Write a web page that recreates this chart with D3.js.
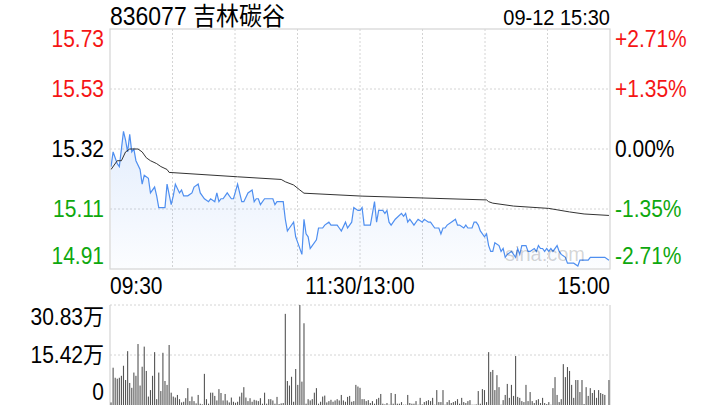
<!DOCTYPE html>
<html><head><meta charset="utf-8">
<script src="https://cdn.jsdelivr.net/npm/d3@7"></script>
<style>
html,body{margin:0;padding:0;background:#fff;}
svg text{font-family:"Liberation Sans",Arial,"Noto Sans CJK SC",sans-serif;}
</style></head>
<body><svg id="c" width="720" height="420"></svg>
<script>
// ---- data ----
const title = "836077 吉林碳谷";
const stamp = "09-12 15:30";
const preClose = 15.32;
const priceDomain = [14.91, 15.73];
const priceTickLabels = ["15.73", "15.53", "15.32", "15.11", "14.91"];
const pctTickLabels = ["+2.71%", "+1.35%", "0.00%", "-1.35%", "-2.71%"];
const timeLabels = ["09:30", "11:30/13:00", "15:00"];
const volMax = 30.83;
const volTickLabels = ["30.83万", "15.42万", "0"];
const minutes = 241;

// minute index / price pairs for the intraday line
const priceIdx = [0,1,3,4,6,7,8,9,10,11,12,14,15,16,18,19,21,22,23,25,26,27,29,30,31,33,34,35,37,39,40,42,43,45,47,48,50,51,52,53,54,55,56,58,59,61,63,64,66,68,69,70,71,72,74,78,79,80,83,84,85,86,88,89,90,92,93,94,95,96,97,99,100,102,103,105,106,109,110,111,113,114,116,117,119,120,121,122,125,126,127,128,129,131,132,133,134,135,137,140,141,142,143,144,145,146,148,150,151,153,154,156,158,159,160,161,162,164,166,167,168,170,171,172,174,175,176,177,178,180,181,182,183,184,185,187,188,189,190,191,193,195,196,197,198,200,201,202,204,205,206,207,208,209,210,211,212,213,215,216,217,219,220,221,222,223,225,226,228,230,231,233,235,238,240];
const priceVal = [15.26,15.31,15.27,15.26,15.38,15.35,15.31,15.37,15.31,15.32,15.28,15.25,15.20,15.23,15.22,15.17,15.19,15.16,15.12,15.12,15.12,15.20,15.13,15.16,15.20,15.17,15.18,15.16,15.16,15.17,15.19,15.20,15.17,15.15,15.14,15.15,15.14,15.17,15.14,15.15,15.15,15.16,15.17,15.15,15.15,15.20,15.14,15.14,15.17,15.18,15.14,15.15,15.15,15.13,15.15,15.15,15.13,15.14,15.14,15.08,15.04,15.05,15.07,15.02,15.00,14.96,15.08,15.03,15.02,14.98,14.99,15.01,15.05,15.05,15.06,15.07,15.06,15.06,15.05,15.04,15.07,15.05,15.07,15.12,15.11,15.11,15.12,15.06,15.06,15.10,15.14,15.07,15.11,15.11,15.10,15.11,15.07,15.06,15.08,15.10,15.09,15.10,15.07,15.08,15.07,15.06,15.08,15.07,15.08,15.07,15.07,15.05,15.05,15.03,15.05,15.05,15.06,15.07,15.08,15.06,15.06,15.05,15.06,15.05,15.05,15.07,15.07,15.06,15.04,15.02,15.03,14.99,14.97,14.97,15.00,14.99,14.97,14.98,14.95,14.96,14.97,14.95,14.98,14.96,14.99,14.99,14.97,14.97,14.98,14.97,14.99,14.98,14.98,14.97,14.98,14.97,14.98,14.97,14.99,14.97,14.96,14.95,14.93,14.93,14.93,14.93,14.92,14.94,14.94,14.94,14.95,14.95,14.95,14.95,14.94];

// minute index / average price pairs
const avgIdx = [0,3,5,7,9,13,15,17,19,22,24,27,28,61,82,84,88,91,93,121,181,182,184,194,211,221,228,240];
const avgVal = [15.25,15.28,15.28,15.31,15.32,15.32,15.31,15.29,15.28,15.27,15.26,15.25,15.24,15.225,15.216,15.208,15.197,15.18,15.169,15.159,15.146,15.14,15.135,15.125,15.117,15.105,15.098,15.093];

// volume per minute, in 万
const volAM = [0.8,11.5,8.4,8.1,8.4,9.0,12.1,7.7,16.6,6.8,
5.3,10.0,9.0,18.8,6.0,11.8,18.0,10.5,2.6,4.6,
9.0,16.3,1.8,10.0,4.3,16.1,7.4,6.2,18.5,3.8,
2.6,2.3,3.1,1.8,0.8,1.0,2.1,5.2,1.2,2.6,
1.2,0.5,3.1,0.4,0.2,9.6,1.8,0.4,3.8,3.8,
2.8,1.4,4.9,3.7,1.4,3.4,1.4,0.8,2.3,1.0,
0.7,1.0,2.6,3.8,5.5,2.3,1.2,2.1,1.0,1.6,
1.4,1.2,2.1,0.4,3.8,0.4,1.8,1.8,1.4,0.4,
2.5,0.3,0.5,0.6,28.1,7.4,6.0,8.7,1.0,11.1,
6.2,30.83,7.2,25.2,0.4,1.8,1.4,1.8,3.8,5.2,
0.4,1.0,2.6,2.9,0.8,1.2,1.6,1.0,1.4,1.8,
1.4,3.1,1.4,1.0,2.5,2.8,1.0,1.2,6.2,5.7,
5.3];
const volPM = [1.8,1.8,1.2,1.5,0.6,1.2,0.4,1.8,2.2,3.4,
0.4,0.2,0.6,0.1,3.7,0.4,3.4,0.4,0.4,0.9,
0.1,0.1,3.1,0.6,0.4,0.4,1.2,0.1,2.2,0.2,
0.9,1.2,1.5,1.2,2.2,0.1,4.6,0.9,0.9,4.6,
0.1,0.9,1.5,0.6,0.9,1.2,1.8,0.4,2.2,0.9,
0.6,1.2,1.5,0.1,0.1,0.2,4.3,0.4,4.9,4.6,
0.9,16.3,10.2,10.8,4.6,9.2,5.5,0.1,1.5,3.1,
6.5,2.2,6.2,2.8,15.1,2.5,2.2,1.2,0.9,6.2,
1.2,4.0,1.2,0.6,1.5,1.8,0.6,2.2,0.6,0.3,
0.9,0.1,5.2,8.6,3.1,0.9,1.8,12.6,8.6,11.7,
10.5,6.2,2.2,7.7,7.7,4.0,7.7,0.3,5.5,2.8,
5.2,3.7,4.6,2.2,4.6,3.7,3.4,3.1,0.0,7.7];

// ---- drawing ----
const svg = d3.select("#c");
const L = 110, R = 610, PT = 29, PB = 269, VT = 305, VB = 405;
const RED = "#f51515", GREEN = "#0ea80e", GRID = "#d4d4d4";
const FONT = 21, SY = 1.1;

const x = d3.scaleLinear().domain([0, minutes]).range([L, R]);
const y = d3.scaleLinear().domain(priceDomain).range([PB, PT]);
const yv = d3.scaleLinear().domain([0, volMax]).range([VB, VT]);

const prices = priceIdx.map((t, k) => ({t, v: priceVal[k]}));
const avgs = avgIdx.map((t, k) => ({t, v: avgVal[k]}));
const vols = volAM.concat(volPM);

// text placed at (tx, ty) centre line, slightly stretched vertically
function label(sel, tx, ty) {
  return sel.attr("transform", (d, k) => `translate(${tx(d, k)},${ty(d, k)}) scale(1,${SY})`)
    .attr("dy", "0.35em").attr("font-size", FONT);
}

// gradient
const defs = svg.append("defs");
const g = defs.append("linearGradient").attr("id", "fillg")
  .attr("gradientUnits", "userSpaceOnUse").attr("x1", 0).attr("x2", 0).attr("y1", PT + 90).attr("y2", PB);
g.append("stop").attr("offset", 0).attr("stop-color", "#4f8ff0").attr("stop-opacity", 0.17);
g.append("stop").attr("offset", 1).attr("stop-color", "#4f8ff0").attr("stop-opacity", 0.02);

// price grid: quartiles of the price domain
const [pLo, pHi] = priceDomain;
const gridVals = d3.range(5).map(k => pHi - k * (pHi - pLo) / 4);
svg.append("g").selectAll("line").data(gridVals.slice(1, 4)).join("line")
  .attr("x1", L).attr("x2", R).attr("y1", d => y(d)).attr("y2", d => y(d))
  .attr("stroke", GRID).attr("stroke-dasharray", "2,2");
svg.append("g").selectAll("line").data(d3.range(1, 8)).join("line")
  .attr("x1", k => L + k * (R - L) / 8).attr("x2", k => L + k * (R - L) / 8)
  .attr("y1", PT).attr("y2", PB)
  .attr("stroke", GRID).attr("stroke-dasharray", "2,2");

// area + line
const xi = d => x(d.t + 0.5);
svg.append("path").datum(prices)
  .attr("d", d3.area().x(xi).y0(PB).y1(d => y(d.v)))
  .attr("fill", "url(#fillg)");
svg.append("path").datum(prices)
  .attr("d", d3.line().x(xi).y(d => y(d.v)))
  .attr("fill", "none").attr("stroke", "#4f8ff0").attr("stroke-width", 1.2);
svg.append("path").datum(avgs)
  .attr("d", d3.line().x(xi).y(d => y(d.v)))
  .attr("fill", "none").attr("stroke", "#333").attr("stroke-width", 1);

// watermark
svg.append("text").attr("x", 545).attr("y", 261).attr("text-anchor", "middle")
  .attr("font-size", 20).attr("fill", "#000").attr("fill-opacity", 0.18).text("sina.com");

// price frame
svg.append("rect").attr("x", L).attr("y", PT).attr("width", R - L).attr("height", PB - PT)
  .attr("fill", "none").attr("stroke", GRID).attr("stroke-width", 1.2);

// price labels
const clampY = v => Math.max(PT + 10, Math.min(PB - 13, y(v)));
const colorFor = k => k < 2 ? RED : (k === 2 ? "#000" : GREEN);
label(svg.append("g").selectAll("text").data(gridVals).join("text"), () => 104, d => clampY(d))
  .attr("text-anchor", "end").attr("fill", (d, k) => colorFor(k)).text((d, k) => priceTickLabels[k]);
label(svg.append("g").selectAll("text").data(gridVals).join("text"), () => 615, d => clampY(d))
  .attr("text-anchor", "start").attr("fill", (d, k) => colorFor(k)).text((d, k) => pctTickLabels[k]);

// header
svg.append("text").attr("transform", `translate(${L},25) scale(1,${SY})`).attr("font-size", 23).attr("fill", "#000").text(title);
svg.append("text").attr("transform", `translate(${R},25) scale(1,${SY})`).attr("text-anchor", "end").attr("font-size", 20).attr("fill", "#000").text(stamp);

// time labels
const timePos = [0, minutes / 2, minutes];
const anchors = ["start", "middle", "end"];
label(svg.append("g").selectAll("text").data(timePos).join("text"), d => x(d), () => 286)
  .attr("text-anchor", (d, k) => anchors[k]).attr("fill", "#000")
  .text((d, k) => timeLabels[k]);

// volume grid
const volGrid = [volMax, volMax / 2];
svg.append("g").selectAll("line").data(volGrid).join("line")
  .attr("x1", L).attr("x2", R).attr("y1", d => yv(d)).attr("y2", d => yv(d))
  .attr("stroke", GRID).attr("stroke-dasharray", "2,2");
svg.append("line").attr("x1", L).attr("x2", L).attr("y1", VT).attr("y2", VB).attr("stroke", GRID).attr("stroke-width", 1.2);
svg.append("line").attr("x1", R).attr("x2", R).attr("y1", VT).attr("y2", VB).attr("stroke", GRID).attr("stroke-width", 1.2);

// volume bars
svg.append("g").selectAll("rect").data(vols).join("rect")
  .attr("x", (d, i) => x(i + 0.5) - 0.55).attr("width", 1.1)
  .attr("y", d => yv(d)).attr("height", d => VB - yv(d))
  .attr("fill", "#555");

// volume labels
const volTickVals = [volMax, volMax / 2, 0];
const clampV = v => Math.max(VT + 12, Math.min(VB - 13, yv(v)));
label(svg.append("g").selectAll("text").data(volTickVals).join("text"), () => 104, d => clampV(d))
  .attr("text-anchor", "end").attr("fill", "#000").text((d, k) => volTickLabels[k]);
</script></body></html>
